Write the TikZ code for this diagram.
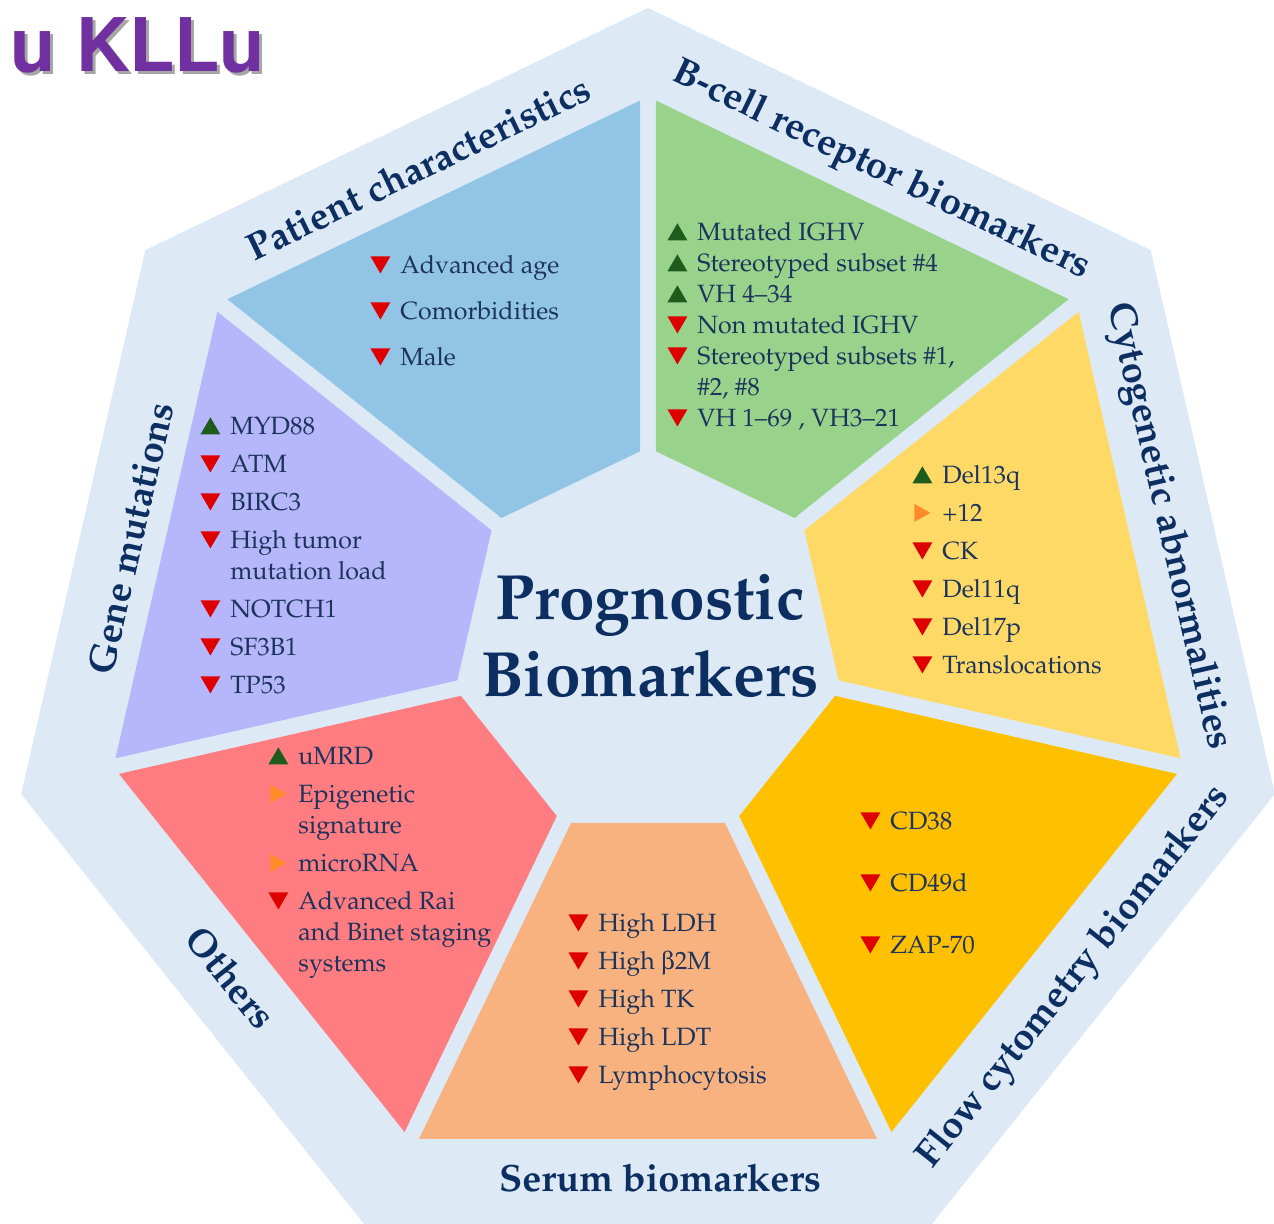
\documentclass[tikz,border=0pt]{standalone}
\usepackage[T1]{fontenc}
\usepackage{mathpazo}
\usepackage[Symbol]{upgreek}
\usepackage[scaled=1]{helvet}
\usepackage{tikz}
\usetikzlibrary{calc}

\definecolor{bandblue}{RGB}{221,234,246}
\definecolor{secblue}{RGB}{146,196,230}
\definecolor{secgreen}{RGB}{152,210,139}
\definecolor{secyellow}{RGB}{255,217,102}
\definecolor{secgold}{RGB}{255,192,0}
\definecolor{secpeach}{RGB}{248,178,128}
\definecolor{secred}{RGB}{255,124,128}
\definecolor{secpurple}{RGB}{182,182,250}
\definecolor{navy}{RGB}{12,46,96}
\definecolor{itemtext}{RGB}{28,52,92}
\definecolor{mkred}{RGB}{222,0,0}
\definecolor{mkgreen}{RGB}{30,92,30}
\definecolor{mkorange}{RGB}{255,140,40}
\definecolor{titlepurple}{RGB}{112,48,160}

% little arrow markers in front of each item
\newcommand{\dnmark}{\tikz[baseline=0pt]{\useasboundingbox (0,0) rectangle (10pt,8.6pt); \fill[mkred] (0,8.6pt) -- (10pt,8.6pt) -- (5pt,0pt) -- cycle;}}
\newcommand{\upmark}{\tikz[baseline=0pt]{\useasboundingbox (0,0) rectangle (10pt,8.6pt); \fill[mkgreen] (0,0) -- (10pt,0) -- (5pt,8.6pt) -- cycle;}}
\newcommand{\rtmark}{\tikz[baseline=0pt]{\useasboundingbox (0,0) rectangle (10pt,8.6pt); \fill[mkorange] (1pt,-0.2pt) -- (1pt,8.8pt) -- (9pt,4.3pt) -- cycle;}}

\begin{document}
\begin{tikzpicture}[
    x=0.5pt, y=0.5pt,
    catlabel/.style={text=navy, inner sep=0pt, font=\fontsize{19}{22}\selectfont\bfseries},
    itemlist/.style={anchor=base west, inner sep=0pt, text=itemtext, font=\fontsize{12.5}{15.5}\selectfont},
    titletext/.style={anchor=base west, inner sep=0pt, font=\fontsize{37}{40}\selectfont\sffamily\bfseries}
]
\path[use as bounding box] (0,0) rectangle (1274,1224);
\clip (0,0) rectangle (1274,1224);

% outer heptagon
\fill[bandblue, shift={(648,573)}] (90:643) -- (38.57:643) -- (-12.86:643) -- (-64.29:643) -- (-115.71:643) -- (-167.14:643) -- (141.43:643) -- cycle;

% the seven coloured sectors
\foreach \ang/\col in {115.71/secblue, 64.29/secgreen, 12.86/secyellow, -38.57/secgold, -90/secpeach, -141.43/secred, 167.14/secpurple}
    \fill[\col, shift={(648,579)}, rotate=\ang] (178,76.9) -- (178,-76.9) -- (494,-229) -- (494,229) -- cycle;

\coordinate (hub) at (648,579);

\node (title_shadow) [titletext, text=black!35] at (13,1149) {u KLLu};
\node (title) [titletext, text=titlepurple] at (10,1152) {u KLLu};

\node (centre) [text=navy, align=center, font=\fontsize{32}{38.5}\selectfont\bfseries] at (650,588) {Prognostic\\Biomarkers};

% category names along the rim
\node (lab_patient) [catlabel, rotate=25.71] at ($(hub)+(115.71:530)$) {Patient characteristics};
\node (lab_bcell) [catlabel, rotate=-25.71] at ($(hub)+(64.29:528)+(4,-2)$) {B-cell receptor biomarkers};
\node (lab_cyto) [catlabel, rotate=-77.14] at ($(hub)+(12.86:533)$) {Cytogenetic abnormalities};
\node (lab_flow) [catlabel, rotate=51.43] at ($(hub)+(-38.57:533)+(10,0)$) {Flow cytometry biomarkers};
\node (lab_serum) [catlabel] at ($(hub)+(-90:533)+(12,0)$) {Serum biomarkers};
\node (lab_others) [catlabel, rotate=-51.43] at ($(hub)+(-141.43:533)$) {Others};
\node (lab_gene) [catlabel, rotate=77.14] at ($(hub)+(167.14:533)+(2,-12)$) {Gene mutations};

% item lists
\node (items_patient) [itemlist] at (370,950.5) {\begin{tabular}[t]{@{}l@{\hspace{5pt}}l@{}}
\dnmark & Advanced age\\[7.5pt]
\dnmark & Comorbidities\\[7.5pt]
\dnmark & Male
\end{tabular}};

\node (items_bcell) [itemlist] at (667,983.5) {\begin{tabular}[t]{@{}l@{\hspace{5pt}}l@{}}
\upmark & Mutated IGHV\\
\upmark & Stereotyped subset \#4\\
\upmark & VH 4--34\\
\dnmark & Non mutated IGHV\\
\dnmark & Stereotyped subsets \#1,\\
        & \#2, \#8\\
\dnmark & VH 1--69 , VH3--21
\end{tabular}};

\node (items_cyto) [itemlist] at (912,740.5) {\begin{tabular}[t]{@{}l@{\hspace{5pt}}l@{}}
\upmark & Del13q\\[3.5pt]
\rtmark & +12\\[3.5pt]
\dnmark & CK\\[3.5pt]
\dnmark & Del11q\\[3.5pt]
\dnmark & Del17p\\[3.5pt]
\dnmark & Translocations
\end{tabular}};

\node (items_gene) [itemlist] at (200,789.5) {\begin{tabular}[t]{@{}l@{\hspace{5pt}}l@{}}
\upmark & MYD88\\[3.5pt]
\dnmark & ATM\\[3.5pt]
\dnmark & BIRC3\\[3.5pt]
\dnmark & High tumor\\
        & mutation load\\[3.5pt]
\dnmark & NOTCH1\\[3.5pt]
\dnmark & SF3B1\\[3.5pt]
\dnmark & TP53
\end{tabular}};

\node (items_others) [itemlist] at (268,459.5) {\begin{tabular}[t]{@{}l@{\hspace{5pt}}l@{}}
\upmark & uMRD\\[3.5pt]
\rtmark & Epigenetic\\
        & signature\\[3.5pt]
\rtmark & microRNA\\[3.5pt]
\dnmark & Advanced Rai\\
        & and Binet staging\\
        & systems
\end{tabular}};

\node (items_serum) [itemlist] at (568,292.5) {\begin{tabular}[t]{@{}l@{\hspace{5pt}}l@{}}
\dnmark & High LDH\\[3.5pt]
\dnmark & High $\upbeta$2M\\[3.5pt]
\dnmark & High TK\\[3.5pt]
\dnmark & High LDT\\[3.5pt]
\dnmark & Lymphocytosis
\end{tabular}};

\node (items_flow) [itemlist] at (860,394.5) {\begin{tabular}[t]{@{}l@{\hspace{5pt}}l@{}}
\dnmark & CD38\\[15.5pt]
\dnmark & CD49d\\[15.5pt]
\dnmark & ZAP-70
\end{tabular}};
\end{tikzpicture}
\end{document}
